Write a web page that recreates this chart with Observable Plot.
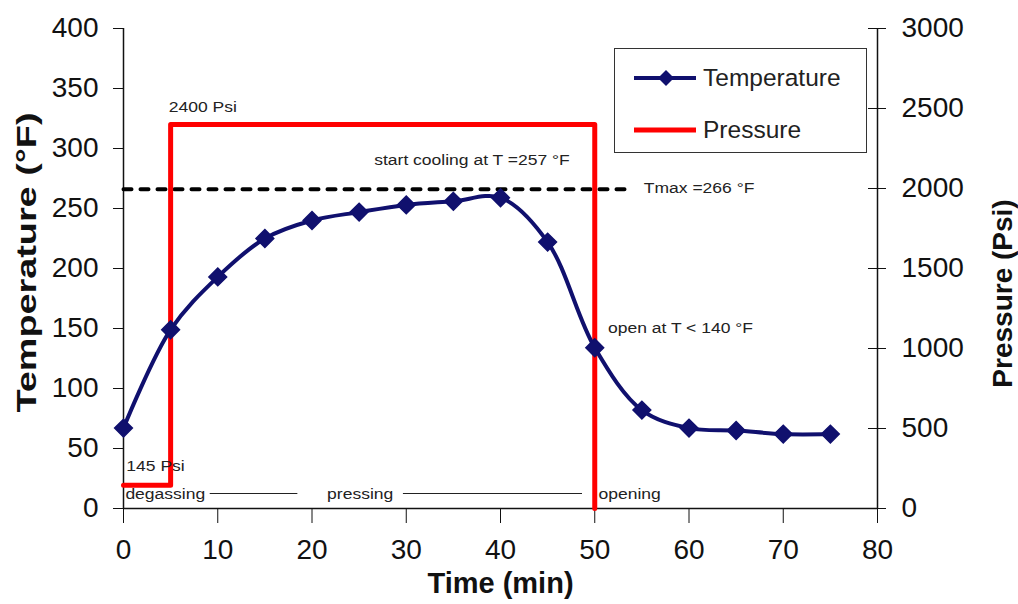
<!DOCTYPE html>
<html>
<head>
<meta charset="utf-8">
<script src="https://cdn.jsdelivr.net/npm/d3@7"></script>
<script src="https://cdn.jsdelivr.net/npm/@observablehq/plot@0.6"></script>
<style>
  body { margin: 0; background: #fff; font-family: "Liberation Sans", Arial, sans-serif; }
  #wrap { position: relative; width: 1018px; height: 604px; }
  #legend { position: absolute; left: 614px; top: 48px; width: 251px; height: 103px; border: 1.5px solid #333; background: #fff; }
  #legend .row { position: absolute; left: 18px; display: flex; align-items: center; font-size: 24.5px; color: #222; }
  #legend svg { margin-right: 6px; }
</style>
</head>
<body>
<div id="wrap">
  <div id="chart"></div>
  <div id="legend">
    <div class="row" style="top:15px"><svg width="64" height="20"><line x1="1" y1="10" x2="63" y2="10" stroke="#10106e" stroke-width="4"/><path d="M33 2 L41 10 L33 18 L25 10 Z" fill="#10106e"/></svg>Temperature</div>
    <div class="row" style="top:67px"><svg width="64" height="20"><line x1="1" y1="10" x2="63" y2="10" stroke="#ff0000" stroke-width="5"/></svg>Pressure</div>
  </div>
</div>
<script>
// Temperature series (°F) vs time (min)
const time = [0, 5, 10, 15, 20, 25, 30, 35, 40, 45, 50, 55, 60, 65, 70, 75];
const temperature = [67, 149, 193, 225, 240, 247, 253, 256, 259, 222, 134, 82, 67, 65, 62, 62];
// Pressure (Psi) step profile
const pressureTime = [0, 5, 5, 50, 50];
const pressureValues = [145, 145, 2400, 2400, 0];
// Tmax reference line
const tmax = 266;
const tmaxSpan = [0, 54];
// Axis ticks
const xTicks = [0, 10, 20, 30, 40, 50, 60, 70, 80];
const tempTicks = [0, 50, 100, 150, 200, 250, 300, 350, 400];
const pressTicks = [0, 500, 1000, 1500, 2000, 2500, 3000];
const TEMP_MAX = 400, PRESS_MAX = 3000;
// Annotations (data coordinates)
const annotations = [
  {x: 4.8, y: 334, text: "2400 Psi"},
  {x: 26.6, y: 290, text: "start cooling at T =257 °F"},
  {x: 55.2, y: 267, text: "Tmax =266 °F"},
  {x: 51.4, y: 150, text: "open at T < 140 °F"},
  {x: 0.3, y: 35, text: "145 Psi"},
  {x: 0.2, y: 12, text: "degassing"},
  {x: 21.6, y: 12, text: "pressing"},
  {x: 50.4, y: 12, text: "opening"}
];
const phaseLines = [[9.2, 18.5], [29.7, 48.7]];
const phaseY = 12.5;

const temps = time.map((t, i) => ({t, v: temperature[i]}));
const press = pressureTime.map((t, i) => ({t, p: pressureValues[i]}));
const p2t = p => p * TEMP_MAX / PRESS_MAX;

const chart = Plot.plot({
  width: 1018,
  height: 604,
  marginLeft: 123,
  marginRight: 141,
  marginTop: 28,
  marginBottom: 96,
  style: {fontFamily: "Liberation Sans, Arial, sans-serif", color: "#111", background: "#fff"},
  x: {domain: [0, 80]},
  y: {domain: [0, TEMP_MAX]},
  marks: [
    Plot.axisX({ticks: xTicks, tickSize: 15, tickPadding: 16, fontSize: 28, label: null, tickFormat: d => String(d)}),
    Plot.axisY({ticks: tempTicks, anchor: "left", tickSize: 10, tickPadding: 15, fontSize: 28, label: null, tickFormat: d => String(d)}),
    Plot.axisY(pressTicks.map(p2t), {anchor: "right", tickSize: 8, tickPadding: 16, fontSize: 28, label: null, tickFormat: d => String(Math.round(d * PRESS_MAX / TEMP_MAX))}),
    Plot.axisY(pressTicks.map(p2t), {anchor: "right", tickSize: -10, tickFormat: () => "", label: null}),
    Plot.ruleX([0, 80], {stroke: "#111", strokeWidth: 1.5}),
    Plot.ruleY([0], {stroke: "#111", strokeWidth: 1.5}),
    Plot.line(tmaxSpan.map(t => ({t, v: tmax})), {x: "t", y: "v", stroke: "#000", strokeWidth: 4, strokeDasharray: "8,9"}),
    Plot.line(press, {x: "t", y: d => p2t(d.p), stroke: "#ff0000", strokeWidth: 5}),
    Plot.line(temps, {x: "t", y: "v", stroke: "#10106e", strokeWidth: 4, curve: "catmull-rom"}),
    Plot.dot(temps, {x: "t", y: "v", symbol: "diamond2", r: 8, fill: "#10106e", stroke: "#10106e"}),
    Plot.ruleY(phaseLines, {x1: d => d[0], x2: d => d[1], y: () => phaseY, stroke: "#222", strokeWidth: 1.2}),
    Plot.text(annotations, {x: "x", y: "y", text: "text", textAnchor: "start", fontSize: 14, fill: "#222", className: "annot"}),
    Plot.text(["Temperature (°F)"], {frameAnchor: "left", textAnchor: "middle", dx: -96, dy: -6, rotate: -90, fontSize: 28, fontWeight: "bold", fill: "#111", className: "ytitle"}),
    Plot.text(["Pressure (Psi)"], {frameAnchor: "right", textAnchor: "middle", dx: 126, dy: 25, rotate: -90, fontSize: 28, fontWeight: "bold", fill: "#111"}),
    Plot.text(["Time (min)"], {frameAnchor: "bottom", dy: 84, fontSize: 29, fontWeight: "bold", fill: "#111"})
  ]
});
document.getElementById("chart").appendChild(chart);
// horizontal stretch of text as in the original rendering
chart.querySelectorAll(".annot text").forEach(t => {
  const L = t.getComputedTextLength();
  t.setAttribute("textLength", (L * 1.25).toFixed(1));
  t.setAttribute("lengthAdjust", "spacingAndGlyphs");
});
chart.querySelectorAll(".ytitle text").forEach(t => {
  t.setAttribute("textLength", "300");
  t.setAttribute("lengthAdjust", "spacingAndGlyphs");
});
</script>
</body>
</html>
